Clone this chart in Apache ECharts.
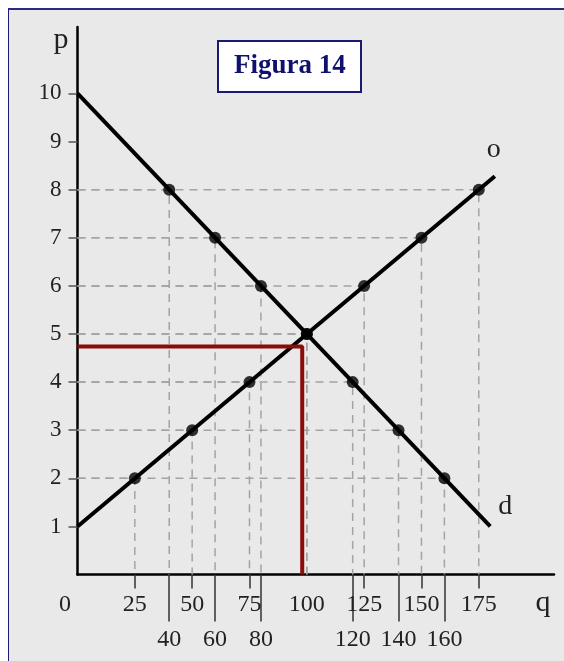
<!DOCTYPE html>
<html>
<head>
<meta charset="utf-8">
<script src="https://cdn.jsdelivr.net/npm/echarts@6/dist/echarts.min.js"></script>
<style>
  html, body { margin: 0; padding: 0; background: #fff; }
  #frame {
    position: absolute; left: 8px; top: 8px; width: 556px; height: 653px;
    background: #e9e9e9; border-top: 2px solid #2b2b86; border-left: 1px solid #1c1c7c;
    box-sizing: border-box;
  }
  #chart { position: absolute; left: 0; top: 0; width: 564px; height: 661px; }
</style>
</head>
<body>
<div id="frame"></div>
<div id="chart"></div>
<script>
// demanda (d) y oferta (o)
var demandQ = [40, 60, 80, 100, 120, 140, 160];
var demandP = [8, 7, 6, 5, 4, 3, 2];
var supplyQ = [25, 50, 75, 100, 125, 150, 175];
var supplyP = [2, 3, 4, 5, 6, 7, 8];
var demandLine = [[0, 10], [180, 1]];
var supplyLine = [[0, 1], [182, 8.28]];
// precio / cantidad marcados en rojo
var markQ = 98;
var markP = 4.74;

var yTicks = [1, 2, 3, 4, 5, 6, 7, 8, 9, 10];
var xLabelsTop = [0, 25, 50, 75, 100, 125, 150, 175];
var xTicksTop = [25, 50, 75, 125, 150, 175];
var xLabelsBottom = [40, 60, 80, 120, 140, 160];

var serif = "Liberation Serif";
var chart = echarts.init(document.getElementById("chart"));

function guide(q, p) {
  return {
    type: "line",
    xAxisIndex: 0,
    symbol: "none",
    silent: true,
    z: 1,
    lineStyle: { color: "#a3a3a3", width: 1.5, type: [8, 6] },
    data: [[0, p], [q, p], [q, 0]],
  };
}

var series = [];
demandQ.forEach(function (q, i) {
  series.push(guide(q, demandP[i]));
});
supplyQ.forEach(function (q, i) {
  series.push(guide(q, supplyP[i]));
});

series.push({
  name: "d",
  type: "line",
  symbol: "none",
  z: 2,
  lineStyle: { color: "#000", width: 4 },
  data: demandLine,
  endLabel: {
    show: true,
    formatter: "d",
    distance: 0,
    align: "center",
    verticalAlign: "middle",
    offset: [15, -20],
    fontFamily: serif,
    fontSize: 28,
    color: "#222",
  },
});
series.push({
  name: "o",
  type: "line",
  symbol: "none",
  z: 2,
  lineStyle: { color: "#000", width: 4 },
  data: supplyLine,
  endLabel: {
    show: true,
    formatter: "o",
    distance: 0,
    align: "center",
    verticalAlign: "middle",
    offset: [-1, -27],
    fontFamily: serif,
    fontSize: 28,
    color: "#222",
  },
});
series.push({
  type: "line",
  symbol: "none",
  z: 3,
  lineStyle: { color: "#8b0a0a", width: 4 },
  data: [[0, markP], [markQ, markP], [markQ, 0]],
});
series.push({
  type: "scatter",
  symbolSize: 12,
  z: 4,
  itemStyle: { color: "#000" },
  data: demandQ.map(function (q, i) { return [q, demandP[i]]; })
    .concat(supplyQ.map(function (q, i) { return [q, supplyP[i]]; })),
});

var option = {
  animation: false,
  backgroundColor: "transparent",
  title: {
    text: "Figura 14",
    left: 218,
    top: 41,
    padding: [12, 16],
    backgroundColor: "#fff",
    borderColor: "#1a1a72",
    borderWidth: 2,
    textStyle: { fontFamily: serif, fontWeight: "bold", fontSize: 27, color: "#10106e" },
  },
  grid: {
    left: 77.5,
    top: 27,
    width: 476.5,
    height: 547.6,
    outerBoundsMode: "none",
  },
  xAxis: [
    {
      type: "value",
      min: 0,
      max: 207.8,
      position: "bottom",
      splitLine: { show: false },
      axisLine: { show: true, lineStyle: { color: "#000", width: 2.5 } },
      axisTick: { show: true, customValues: xTicksTop, length: 14, lineStyle: { color: "#333", width: 1.5 } },
      axisLabel: {
        customValues: xLabelsTop,
        margin: 18,
        fontFamily: serif,
        fontSize: 24,
        color: "#222",
        formatter: function (v) {
          return v === 0 ? "{z|0}" : String(v);
        },
        rich: { z: { fontFamily: serif, fontSize: 24, color: "#222", padding: [0, 25, 0, 0] } },
      },
      name: "q",
      nameLocation: "end",
      nameGap: -11,
      nameTextStyle: {
        fontFamily: serif, fontSize: 30, color: "#222",
        align: "center", verticalAlign: "top", padding: [14, 0, 0, 0],
      },
    },
    {
      type: "value",
      min: 0,
      max: 207.8,
      position: "bottom",
      splitLine: { show: false },
      axisLine: { show: false },
      axisTick: { show: true, customValues: xLabelsBottom, length: 47, lineStyle: { color: "#333", width: 1.5 } },
      axisLabel: {
        customValues: xLabelsBottom,
        margin: 53,
        fontFamily: serif,
        fontSize: 24,
        color: "#222",
      },
    },
  ],
  yAxis: {
    type: "value",
    min: 0,
    max: 11.38,
    interval: 1,
    splitLine: { show: false },
    axisLine: { show: true, lineStyle: { color: "#000", width: 2.5 } },
    axisTick: { show: true, customValues: yTicks, length: 9, lineStyle: { color: "#555", width: 1.5 } },
    axisLabel: { customValues: yTicks, margin: 16, fontFamily: serif, fontSize: 23, color: "#222" },
    name: "p",
    nameLocation: "end",
    nameGap: -13,
    nameTextStyle: {
      fontFamily: serif, fontSize: 30, color: "#222",
      align: "right", verticalAlign: "middle", padding: [0, 9, 0, 0],
    },
  },
  series: series,
};

chart.setOption(option);
</script>
</body>
</html>
